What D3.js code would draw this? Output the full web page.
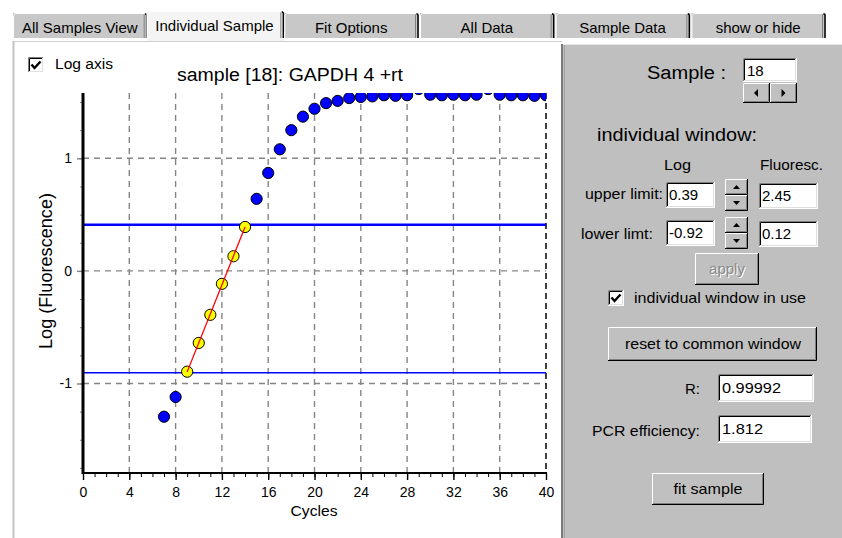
<!DOCTYPE html>
<html>
<head>
<meta charset="utf-8">
<script src="https://cdn.jsdelivr.net/npm/d3@7"></script>
<style>
  body { margin: 0; background: #fff; }
  svg { display: block; font-family: "Liberation Sans", Arial, sans-serif; }
</style>
</head>
<body>
<div id="app"></div>
<script>
// amplification curve of sample 18
var cycles   = [7, 8, 9, 10, 11, 12, 13, 14, 15, 16, 17, 18, 19, 20, 21, 22, 23, 24, 25, 26, 27, 28, 29, 30, 31, 32, 33, 34, 35, 36, 37, 38, 39, 40];
var logFluor = [-1.295, -1.12, -0.895, -0.64, -0.39, -0.115, 0.13, 0.39, 0.64, 0.87, 1.08, 1.25, 1.37, 1.44, 1.49, 1.51, 1.535, 1.545, 1.55, 1.56, 1.555, 1.56, 1.615, 1.565, 1.56, 1.565, 1.56, 1.565, 1.615, 1.565, 1.56, 1.56, 1.555, 1.56];
var fitCycles = [9, 10, 11, 12, 13, 14];     // points inside the window (yellow)
var windowLines = [0.41, -0.905];             // upper / lower limit as drawn
var xTicks = [0, 4, 8, 12, 16, 20, 24, 28, 32, 36, 40];
var yTicks = [-1, 0, 1];

var tabNames = ["All Samples View", "Individual Sample", "Fit Options", "All Data", "Sample Data", "show or hide"];
var activeTab = "Individual Sample";

var sampleNo = "18";
var plotTitle = "sample [18]:  GAPDH 4  +rt";
var upperLog = "0.39", upperFluor = "2.45";
var lowerLog = "-0.92", lowerFluor = "0.12";
var rValue = "0.99992", pcrEff = "1.812";

var svg = d3.select("#app").append("svg")
    .attr("width", 842)
    .attr("height", 538);

/* ---------- little helpers for the windows look ---------- */
function label(g, x, y, s, size, o) {
    o = o || {};
    var t = g.append("text")
        .attr("x", x).attr("y", y)
        .attr("font-size", size)
        .attr("fill", o.fill || "#000")
        .attr("text-anchor", o.anchor || "start")
        .text(s);
    if (o.w) t.attr("textLength", o.w).attr("lengthAdjust", "spacingAndGlyphs");
    return t;
}

function sunken(g, x, y, w, h) {
    g.append("rect").attr("x", x).attr("y", y).attr("width", w).attr("height", h).attr("fill", "#fff");
    g.append("path").attr("d", "M" + (x + 0.5) + "," + (y + h) + "V" + (y + 0.5) + "H" + (x + w))
        .attr("stroke", "#808080").attr("fill", "none");
    g.append("path").attr("d", "M" + (x + 1.5) + "," + (y + h - 1) + "V" + (y + 1.5) + "H" + (x + w - 1))
        .attr("stroke", "#000").attr("fill", "none");
    g.append("path").attr("d", "M" + x + "," + (y + h - 0.5) + "H" + (x + w - 0.5) + "V" + y)
        .attr("stroke", "#fff").attr("fill", "none");
    g.append("path").attr("d", "M" + (x + 1) + "," + (y + h - 1.5) + "H" + (x + w - 1.5) + "V" + (y + 1))
        .attr("stroke", "#dfdfdf").attr("fill", "none");
}

function raised(g, x, y, w, h) {
    g.append("rect").attr("x", x).attr("y", y).attr("width", w).attr("height", h).attr("fill", "#c0c0c0");
    g.append("path").attr("d", "M" + (x + 0.5) + "," + (y + h - 1) + "V" + (y + 0.5) + "H" + (x + w - 1))
        .attr("stroke", "#fff").attr("fill", "none");
    g.append("path").attr("d", "M" + x + "," + (y + h - 0.5) + "H" + (x + w - 0.5) + "V" + y)
        .attr("stroke", "#000").attr("fill", "none");
    g.append("path").attr("d", "M" + (x + 1) + "," + (y + h - 1.5) + "H" + (x + w - 1.5) + "V" + (y + 1))
        .attr("stroke", "#808080").attr("fill", "none");
}

function tri(g, cx, cy, dir) {
    var d;
    if (dir == "up") d = "M" + (cx - 3.5) + "," + (cy + 2) + "L" + cx + "," + (cy - 2) + "L" + (cx + 3.5) + "," + (cy + 2) + "Z";
    if (dir == "down") d = "M" + (cx - 3.5) + "," + (cy - 2) + "L" + cx + "," + (cy + 2) + "L" + (cx + 3.5) + "," + (cy - 2) + "Z";
    if (dir == "left") d = "M" + (cx + 2) + "," + (cy - 4) + "L" + (cx - 2) + "," + cy + "L" + (cx + 2) + "," + (cy + 4) + "Z";
    if (dir == "right") d = "M" + (cx - 2) + "," + (cy - 4) + "L" + (cx + 2) + "," + cy + "L" + (cx - 2) + "," + (cy + 4) + "Z";
    g.append("path").attr("d", d).attr("fill", "#000");
}

function spin(g, x, y, w, h) {
    raised(g, x, y, w, h / 2);
    raised(g, x, y + h / 2, w, h / 2);
    tri(g, x + w / 2, y + h / 4, "up");
    tri(g, x + w / 2, y + 3 * h / 4, "down");
}

function checkbox(g, x, y, s) {
    sunken(g, x, y, s, s);
    g.append("path")
        .attr("d", "M" + (x + 3.5) + "," + (y + 7.5) + "L" + (x + 6.5) + "," + (y + 11) + "L" + (x + 12.5) + "," + (y + 4.5))
        .attr("stroke", "#000").attr("stroke-width", 2.4).attr("fill", "none");
}

/* ---------- tab strip ---------- */
var tabs = svg.append("g");
var tabX = d3.scaleBand().domain(tabNames).range([12, 826]);

tabNames.forEach(function(name) {
    var x0 = tabX(name), w = tabX.bandwidth(), sel = (name == activeTab);
    var top = sel ? 11 : 13, l = sel ? x0 - 1 : x0 + 1, r = x0 + w + (sel ? 1 : 0);
    var bottom = sel ? 42 : 38;
    tabs.append("rect").attr("x", l).attr("y", top).attr("width", r - l).attr("height", bottom - top)
        .attr("fill", sel ? "#f4f4f4" : "#c8c8c8");
    tabs.append("path").attr("d", "M" + (l + 0.5) + "," + bottom + "V" + (top + 2.5) + "l2,-2H" + (r - 2))
        .attr("stroke", "#fff").attr("fill", "none");
    tabs.append("path").attr("d", "M" + (r - 2.5) + "," + (top + 0.5) + "l1.5,1.5V38")
        .attr("stroke", "#000").attr("stroke-width", 1.5).attr("fill", "none");
    tabs.append("path").attr("d", "M" + (r - 3.5) + "," + (top + 1.5) + "V38")
        .attr("stroke", "#808080").attr("fill", "none");
    label(tabs, x0 + w / 2 - (sel ? 1 : 0), sel ? 31 : 33, name, 15, {anchor: "middle"});
});

/* ---------- page frame ---------- */
svg.append("rect").attr("x", 13).attr("y", 41).attr("width", 549).attr("height", 497).attr("fill", "#fff");
svg.append("line").attr("x1", 13).attr("x2", 562).attr("y1", 41.5).attr("y2", 41.5).attr("stroke", "#cfcfcf");
svg.append("line").attr("x1", 13.5).attr("x2", 13.5).attr("y1", 41).attr("y2", 538).attr("stroke", "#c4c4c4").attr("stroke-width", 2);

var panel = svg.append("g");
panel.append("rect").attr("x", 563).attr("y", 44).attr("width", 279).attr("height", 494).attr("fill", "#bfbfbf");
panel.append("line").attr("x1", 562).attr("x2", 562).attr("y1", 44).attr("y2", 538).attr("stroke", "#7a7a7a").attr("stroke-width", 2);
panel.append("line").attr("x1", 564.5).attr("x2", 564.5).attr("y1", 45).attr("y2", 538).attr("stroke", "#a4a4a4");
panel.append("line").attr("x1", 563).attr("x2", 842).attr("y1", 44.5).attr("y2", 44.5).attr("stroke", "#e6e6e6");

/* ---------- chart ---------- */
var chart = svg.append("g");

var x = d3.scaleLinear().domain([0, 40]).range([83, 546]);
var y = d3.scaleLinear().domain([-1.795, 1.58]).range([473, 93]);

checkbox(chart, 28, 57, 16);
label(chart, 55, 69, "Log axis", 15.5, {w: 58});
label(chart, 177, 81, plotTitle, 18, {w: 226});

// dashed grid
chart.append("g").selectAll("line")
    .data(xTicks.filter(function(d) { return d > 0 && d < 40; }))
    .enter().append("line")
    .attr("x1", function(d) { return x(d); }).attr("x2", function(d) { return x(d); })
    .attr("y1", y.range()[1]).attr("y2", y.range()[0])
    .attr("stroke", "#858585").attr("stroke-width", 1.4).attr("stroke-dasharray", "6,5");

chart.append("g").selectAll("line")
    .data(yTicks)
    .enter().append("line")
    .attr("x1", x(0)).attr("x2", x(40))
    .attr("y1", function(d) { return y(d); }).attr("y2", function(d) { return y(d); })
    .attr("stroke", "#858585").attr("stroke-width", 1.4).attr("stroke-dasharray", "6,5");

// right border
chart.append("line")
    .attr("x1", x(40)).attr("x2", x(40)).attr("y1", y.range()[1]).attr("y2", y.range()[0])
    .attr("stroke", "#000").attr("stroke-width", 1.5).attr("stroke-dasharray", "6,4");

// window limit lines
chart.append("g").selectAll("line")
    .data(windowLines)
    .enter().append("line")
    .attr("x1", x(0)).attr("x2", x(40))
    .attr("y1", function(d) { return y(d); }).attr("y2", function(d) { return y(d); })
    .attr("stroke", "#0000ff")
    .attr("stroke-width", function(d, i) { return i == 0 ? 2.6 : 1.6; });

// axes
var xMinor = chart.append("g").attr("transform", "translate(0,473)")
    .call(d3.axisBottom(x).tickValues(d3.range(0, 41, 1)).tickSize(4).tickFormat(""));
xMinor.select(".domain").remove();

var xAxis = chart.append("g").attr("transform", "translate(0,473)")
    .call(d3.axisBottom(x).tickValues(xTicks).tickSize(7).tickPadding(7));
xAxis.select(".domain").remove();
xAxis.selectAll("line").attr("stroke-width", 1.4);
xAxis.selectAll("text").attr("font-size", 14).attr("font-family", "Liberation Sans, Arial, sans-serif");

var yMinor = chart.append("g").attr("transform", "translate(83,0)")
    .call(d3.axisLeft(y).tickValues(d3.range(-1.75, 1.51, 0.25)).tickSize(3).tickFormat(""));
yMinor.select(".domain").remove();
yMinor.selectAll("line").attr("stroke", "#8a8a8a");

var yAxis = chart.append("g").attr("transform", "translate(83,0)")
    .call(d3.axisLeft(y).tickValues(yTicks).tickSize(6).tickPadding(5)
        .tickFormat(function(d) { return String(d); }));
yAxis.select(".domain").remove();
yAxis.selectAll("line").attr("stroke", "#808080").attr("stroke-width", 1.4);
yAxis.selectAll("text").attr("font-size", 14).attr("font-family", "Liberation Sans, Arial, sans-serif");

chart.append("line").attr("x1", 82).attr("x2", 547).attr("y1", 473).attr("y2", 473)
    .attr("stroke", "#000").attr("stroke-width", 2);
chart.append("line").attr("x1", 83).attr("x2", 83).attr("y1", 93).attr("y2", 474)
    .attr("stroke", "#000").attr("stroke-width", 3);

label(chart, 314, 516, "Cycles", 15, {anchor: "middle", w: 47});
label(chart, 0, 0, "Log (Fluorescence)", 18, {anchor: "middle", w: 156})
    .attr("transform", "translate(52,271) rotate(-90)");

// data points
svg.append("clipPath").attr("id", "plotClip")
    .append("rect").attr("x", 83).attr("y", 93).attr("width", 463).attr("height", 380);

var points = cycles.map(function(c, i) { return {cycle: c, value: logFluor[i]}; });

chart.append("g").attr("clip-path", "url(#plotClip)")
    .selectAll("circle")
    .data(points)
    .enter().append("circle")
    .attr("cx", function(d) { return x(d.cycle); })
    .attr("cy", function(d) { return y(d.value); })
    .attr("r", 5.6)
    .attr("fill", function(d) { return fitCycles.indexOf(d.cycle) >= 0 ? "#ffff00" : "#0000ff"; })
    .attr("stroke", "#000")
    .attr("stroke-width", 1);

// least squares line through the window points
var fitPts = points.filter(function(d) { return fitCycles.indexOf(d.cycle) >= 0; });
var mx = d3.mean(fitPts, function(d) { return d.cycle; });
var my = d3.mean(fitPts, function(d) { return d.value; });
var slope = d3.sum(fitPts, function(d) { return (d.cycle - mx) * (d.value - my); }) /
            d3.sum(fitPts, function(d) { return (d.cycle - mx) * (d.cycle - mx); });
var icpt = my - slope * mx;
var fitEnds = d3.extent(fitCycles);

chart.append("path")
    .datum(fitEnds)
    .attr("d", d3.line()
        .x(function(c) { return x(c); })
        .y(function(c) { return y(icpt + slope * c); }))
    .attr("stroke", "#ff0000")
    .attr("stroke-width", 1.3)
    .attr("fill", "none");

/* ---------- right hand controls ---------- */
label(panel, 726, 79, "Sample :", 18, {anchor: "end", w: 79});
sunken(panel, 743, 58, 54, 24);
label(panel, 747, 76, sampleNo, 15);
raised(panel, 743, 83, 27, 20);
raised(panel, 770, 83, 27, 20);
tri(panel, 756, 93, "left");
tri(panel, 783.5, 93, "right");

label(panel, 597, 141, "individual window:", 18, {w: 160});
label(panel, 664, 170, "Log", 15, {w: 27});
label(panel, 760, 170, "Fluoresc.", 15, {w: 63});

label(panel, 663, 199, "upper limit:", 14, {anchor: "end", w: 78});
sunken(panel, 666, 182, 49, 26);
label(panel, 669, 200, upperLog, 15);
spin(panel, 725, 179, 23, 32);
sunken(panel, 759, 183, 59, 26);
label(panel, 762, 201, upperFluor, 15);

label(panel, 653, 239, "lower limt:", 14, {anchor: "end", w: 72});
sunken(panel, 666, 220, 49, 26);
label(panel, 669, 238, lowerLog, 15);
spin(panel, 725, 217, 23, 32);
sunken(panel, 759, 221, 59, 26);
label(panel, 762, 239, lowerFluor, 15);

raised(panel, 695, 253, 64, 32);
label(panel, 728, 275, "apply", 15, {anchor: "middle", fill: "#fff"});
label(panel, 727, 274, "apply", 15, {anchor: "middle", fill: "#8a8a8a"});

checkbox(panel, 608, 290, 16);
label(panel, 634, 303, "individual window in use", 15, {w: 172});

raised(panel, 608, 327, 209, 34);
label(panel, 713, 349, "reset to common window", 15, {anchor: "middle", w: 176});

label(panel, 700, 394, "R:", 15, {anchor: "end"});
sunken(panel, 718, 374, 96, 28);
label(panel, 722, 393, rValue, 15, {w: 59});

label(panel, 700, 436, "PCR efficiency:", 15, {anchor: "end", w: 108});
sunken(panel, 718, 415, 94, 28);
label(panel, 722, 434, pcrEff, 15, {w: 41});

raised(panel, 652, 473, 112, 32);
label(panel, 708, 494, "fit sample", 15, {anchor: "middle", w: 69});
</script>
</body>
</html>
